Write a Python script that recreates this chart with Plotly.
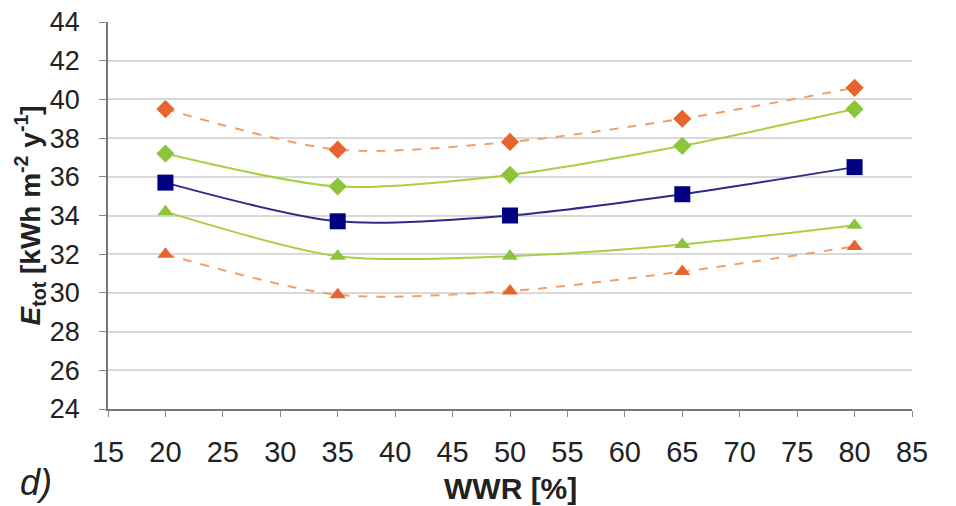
import plotly.graph_objects as go

wwr = [20, 35, 50, 65, 80]
upper_orange = [39.5, 37.4, 37.8, 39.0, 40.6]
upper_green = [37.2, 35.5, 36.1, 37.6, 39.5]
mid_blue = [35.7, 33.7, 34.0, 35.1, 36.5]
lower_green = [34.2, 31.9, 31.9, 32.5, 33.5]
lower_orange = [32.0, 29.9, 30.1, 31.1, 32.4]

x_ticks = list(range(15, 90, 5))
y_ticks = list(range(24, 46, 2))

fig = go.Figure()

def add(y, line_color, marker_color, symbol, size, dash):
    fig.add_trace(go.Scatter(
        x=wwr, y=y, mode="lines+markers",
        line=dict(color=line_color, width=2, dash=dash, shape="spline", smoothing=0.8),
        marker=dict(color=marker_color, symbol=symbol, size=size, line=dict(width=0)),
        showlegend=False))

add(upper_orange, "#F2A06A", "#E8642C", "diamond", 14, "dash")
add(upper_green, "#A6D140", "#8CC43A", "diamond", 14, "solid")
add(mid_blue, "#2B2B8C", "#000080", "square", 16, "solid")
add(lower_green, "#A6D140", "#8CC43A", "triangle-up", 14, "solid")
add(lower_orange, "#F2A06A", "#E8642C", "triangle-up", 14, "dash")

font = "Liberation Sans, Arial, sans-serif"
fig.update_layout(
    width=948, height=498,
    margin=dict(l=100, r=44, t=14, b=97),
    paper_bgcolor="white", plot_bgcolor="white",
    font=dict(family=font, size=26, color="#222"),
    xaxis=dict(range=[15, 85], tickvals=x_ticks, showgrid=False,
               showline=True, linecolor="#777", linewidth=1.5,
               ticks="outside", ticklen=6, tickcolor="#888",
               tickfont=dict(size=29), zeroline=False, automargin=False,
               ticklabelstandoff=10, ticklabeloverflow="allow"),
    yaxis=dict(range=[24, 44], tickvals=y_ticks, showgrid=True,
               gridcolor="#D9D9D9", gridwidth=1.5,
               showline=True, linecolor="#777", linewidth=1.5,
               ticks="outside", ticklen=7, tickcolor="#888",
               tickfont=dict(size=27), zeroline=False, automargin=False,
               ticklabelstandoff=14, ticklabeloverflow="allow"),
)

fig.add_annotation(text="<b><i>E</i><sub>tot</sub> [kWh m<sup>-2</sup> y<sup>-1</sup>]</b>",
                   xref="paper", yref="paper", x=-0.097, y=0.5, xanchor="center",
                   yanchor="middle", textangle=-90, showarrow=False,
                   font=dict(size=28, family=font, color="#222"))
fig.add_annotation(text="<b>WWR [%]</b>", xref="paper", yref="paper",
                   x=0.5, y=-0.205, xanchor="center", yanchor="middle",
                   showarrow=False, font=dict(size=30, family=font, color="#222"))
fig.add_annotation(text="<i>d)</i>", xref="paper", yref="paper",
                   x=-0.112, y=-0.19, xanchor="left", yanchor="middle",
                   showarrow=False, font=dict(size=36, family=font, color="#222"))

fig.write_html("out.html")
